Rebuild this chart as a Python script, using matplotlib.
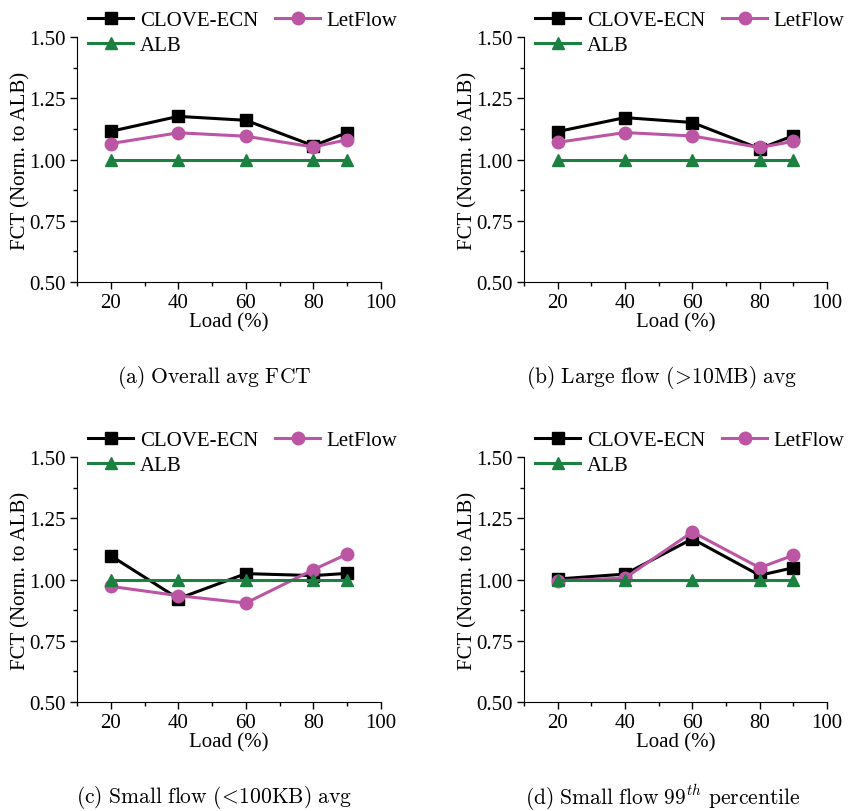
import numpy as np
import matplotlib.pyplot as plt
from matplotlib.ticker import MultipleLocator

plt.rcParams["font.family"] = ["Liberation Serif", "DejaVu Serif"]
plt.rcParams["mathtext.fontset"] = "cm"

load = [20, 40, 60, 80, 90]

# normalized FCT per panel
clove_overall = [1.115, 1.176, 1.160, 1.056, 1.110]
letflow_overall = [1.065, 1.109, 1.095, 1.051, 1.081]
clove_large = [1.114, 1.171, 1.151, 1.044, 1.097]
letflow_large = [1.070, 1.110, 1.096, 1.049, 1.074]
clove_small = [1.097, 0.922, 1.024, 1.016, 1.025]
letflow_small = [0.972, 0.934, 0.904, 1.040, 1.104]
clove_p99 = [1.002, 1.022, 1.166, 1.017, 1.048]
letflow_p99 = [0.995, 1.006, 1.194, 1.048, 1.099]
alb = [1.0, 1.0, 1.0, 1.0, 1.0]

captions = [
    r"$\mathrm{(a)\ Overall\ avg\ FCT}$",
    r"$\mathrm{(b)\ Large\ flow\ (\!>\!10MB)\ avg}$",
    r"$\mathrm{(c)\ Small\ flow\ (\!<\!100KB)\ avg}$",
    r"$\mathrm{(d)\ Small\ flow\ 99}^{th}\mathrm{\ percentile}$",
]
panels = [
    (clove_overall, letflow_overall),
    (clove_large, letflow_large),
    (clove_small, letflow_small),
    (clove_p99, letflow_p99),
]

BLACK = "#000000"
PINK = "#BC55A3"
GREEN = "#1B8040"
FS = 15

W, H = 848, 812
fig = plt.figure(figsize=(W / 100, H / 100), dpi=100)

# axes boxes in pixels: left, top, right, bottom
boxes = [
    (77, 38, 381, 283),
    (524, 38, 827, 283),
    (77, 458, 381, 703),
    (524, 458, 827, 703),
]
caption_pos = [(214, 378), (662, 378), (214, 798), (663, 798)]

for (l, t, r, b), (clove, letflow), cap, (cx, cy) in zip(boxes, panels, captions, caption_pos):
    ax = fig.add_axes([l / W, 1 - b / H, (r - l) / W, (b - t) / H])
    h1, = ax.plot(load, clove, color=BLACK, marker="s", lw=2.2, ms=8, label="CLOVE-ECN", zorder=3)
    h2, = ax.plot(load, letflow, color=PINK, marker="o", lw=2.2, ms=9, label="LetFlow", zorder=4)
    h3, = ax.plot(load, alb, color=GREEN, marker="^", lw=2.2, ms=9, label="ALB", zorder=5)

    ax.set_xlim(10, 100)
    ax.set_ylim(0.5, 1.5)
    ax.set_xticks([20, 40, 60, 80, 100])
    ax.xaxis.set_minor_locator(MultipleLocator(10))
    ax.yaxis.set_major_locator(MultipleLocator(0.25))
    ax.yaxis.set_minor_locator(MultipleLocator(0.125))
    ax.yaxis.set_major_formatter(lambda v, p: f"{v:.2f}")
    ax.spines["top"].set_visible(False)
    ax.spines["right"].set_visible(False)
    ax.tick_params(which="major", direction="out", length=5, width=1, labelsize=FS, pad=3)
    ax.tick_params(which="minor", direction="out", length=3, width=1)
    ax.set_xlabel("Load (%)", fontsize=FS, labelpad=0)
    ax.set_ylabel("FCT (Norm. to ALB)", fontsize=FS, labelpad=-1)

    # column-major fill: CLOVE-ECN / LetFlow on the first row, ALB below
    ax.legend([h1, h3, h2], ["CLOVE-ECN", "ALB", "LetFlow"],
              loc="upper left", bbox_to_anchor=(0.035, 1.108), ncol=2, frameon=False,
              fontsize=FS, handlelength=2.2, columnspacing=0.8, labelspacing=0.25,
              handletextpad=0.3, borderaxespad=0, borderpad=0)

    fig.text(cx / W, 1 - cy / H, cap, ha="center", va="center", fontsize=15.5)

fig.savefig("out.png", dpi=100)
